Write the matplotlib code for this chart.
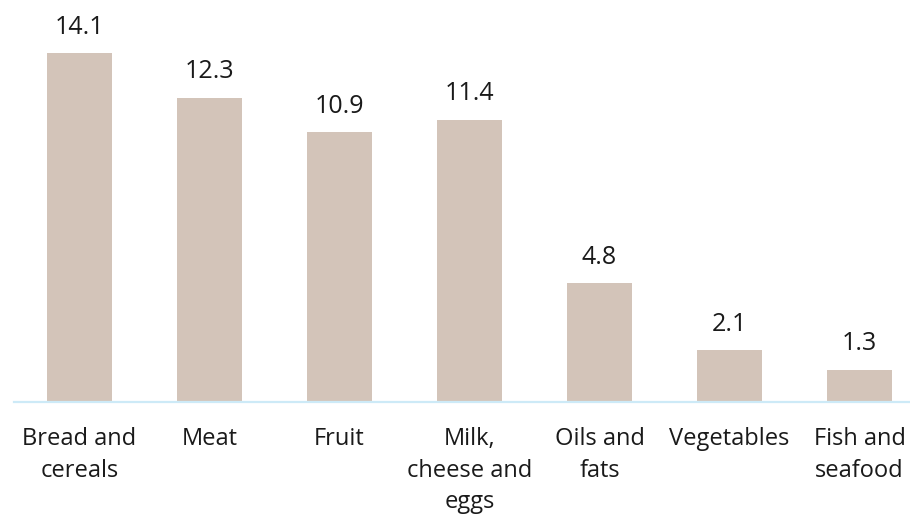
import matplotlib.pyplot as plt

# Daten
kategorien = ["Bread and\ncereals", "Meat", "Fruit", "Milk,\ncheese and\neggs",
              "Oils and\nfats", "Vegetables", "Fish and\nseafood"]
werte = [14.1, 12.3, 10.9, 11.4, 4.8, 2.1, 1.3]
beschriftungen = ["14.1", "12.3", "10.9", "11.4", "4.8", "2.1", "1.3"]

plt.rcParams['font.family'] = ['Open Sans', 'DejaVu Sans']

fig = plt.figure(figsize=(9.1, 5.15), dpi=100)
# Achse: links ab x=14px, unten bei y=402px
ax = fig.add_axes([14 / 910, 1 - 402 / 515, 1 - 14 / 910, 402 / 515])

x = list(range(len(werte)))
ax.bar(x, werte, width=0.5, color="#d3c4b9")

for xi, w, txt in zip(x, werte, beschriftungen):
    ax.annotate(txt, (xi, w), xytext=(0, 14), textcoords="offset points",
                ha="center", va="baseline", fontsize=18, color="#1a1a1a")

ax.set_xlim(-0.504, 6.388)
ax.set_ylim(0, 402 / 24.75)

ax.set_xticks(x)
ax.set_xticklabels(kategorien, fontsize=17, color="#1a1a1a", linespacing=1.42)
ax.tick_params(axis="x", length=0, pad=18)
ax.set_yticks([])

for s in ["top", "right", "left"]:
    ax.spines[s].set_visible(False)
ax.spines["bottom"].set_color("#cdeaf7")
ax.spines["bottom"].set_linewidth(1.6)

fig.savefig("out.png", dpi=100)
